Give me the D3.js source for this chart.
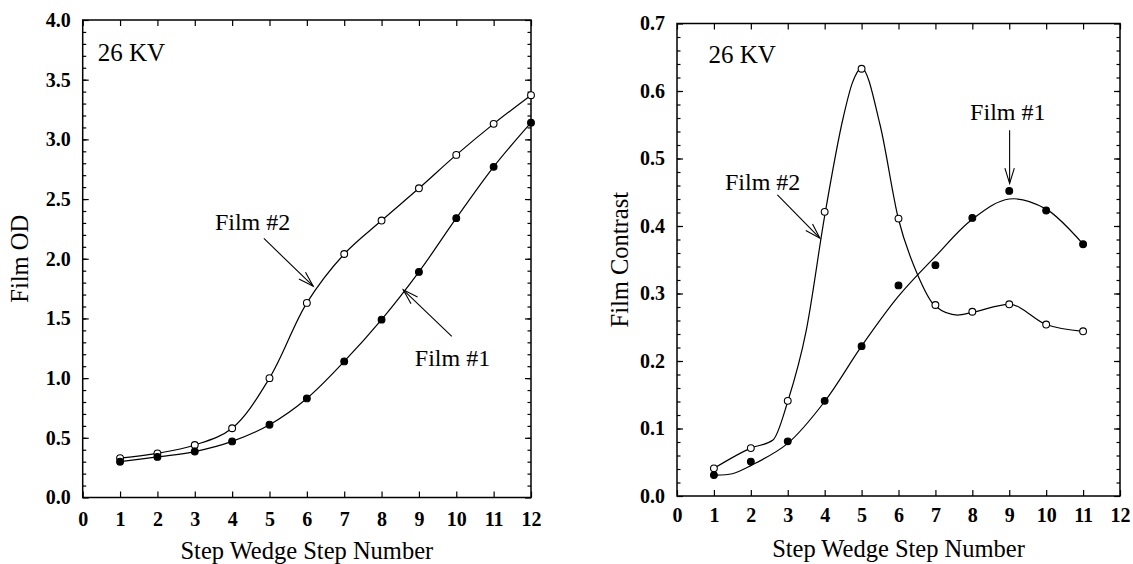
<!DOCTYPE html>
<html>
<head>
<meta charset="utf-8">
<script src="https://cdn.jsdelivr.net/npm/d3@7"></script>
<style>
  html, body { margin: 0; padding: 0; background: #fff; }
  svg { display: block; }
</style>
</head>
<body>
<svg id="chart" width="1133" height="564"></svg>
<script>
// ---------- Data ----------
const steps = [1, 2, 3, 4, 5, 6, 7, 8, 9, 10, 11, 12];
const odFilm1 = [0.30, 0.34, 0.385, 0.47, 0.61, 0.83, 1.14, 1.49, 1.89, 2.34, 2.77, 3.14];
const odFilm2 = [0.33, 0.37, 0.44, 0.58, 1.00, 1.63, 2.04, 2.32, 2.59, 2.87, 3.13, 3.37];

const contrastSteps = [1, 2, 3, 4, 5, 6, 7, 8, 9, 10, 11];
const contrastFilm1 = [0.031, 0.051, 0.081, 0.141, 0.222, 0.312, 0.342, 0.412, 0.452, 0.423, 0.373];
const contrastFilm2 = [0.041, 0.071, 0.141, 0.421, 0.633, 0.411, 0.283, 0.273, 0.284, 0.254, 0.244];

// fitted curves drawn in the contrast panel
const fit1Steps  = [1, 1.5, 2, 3, 4, 5, 6, 7, 8, 9, 10, 11];
const fit1Values = [0.031, 0.033, 0.045, 0.078, 0.14, 0.222, 0.296, 0.355, 0.41, 0.44, 0.425, 0.373];
const fit2Steps  = [1, 2, 2.6, 3, 3.5, 4, 4.5, 4.75, 5, 5.5, 6, 6.5, 7, 7.6, 8, 9, 10, 11];
const fit2Values = [0.041, 0.071, 0.083, 0.14, 0.245, 0.415, 0.56, 0.612, 0.634, 0.55, 0.41, 0.33, 0.281, 0.268, 0.272, 0.284, 0.254, 0.244];

// ticks
const xTicks = [0, 1, 2, 3, 4, 5, 6, 7, 8, 9, 10, 11, 12];
const odTicks = [0, 0.5, 1.0, 1.5, 2.0, 2.5, 3.0, 3.5, 4.0];
const contrastTicks = [0, 0.1, 0.2, 0.3, 0.4, 0.5, 0.6, 0.7];

const svg = d3.select('#chart');
const SERIF = "'Liberation Serif', 'Times New Roman', serif";
const zip = (xs, ys) => xs.map((v, i) => [v, ys[i]]);

function drawPanel(o) {
  const x = d3.scaleLinear().domain([0, 12]).range([o.left, o.right]);
  const y = d3.scaleLinear().domain([0, o.yMax]).range([o.bottom, o.top]);
  const g = svg.append('g');

  const styleAxis = (sel) => {
    sel.select('.domain').remove();
    sel.selectAll('line').attr('stroke', '#000').attr('stroke-width', 1.2);
    sel.attr('font-family', SERIF).attr('font-size', 20).attr('font-weight', 'bold');
    sel.selectAll('text').attr('fill', '#000');
  };

  // bottom + top
  g.append('g').attr('transform', `translate(0,${o.bottom})`)
    .call(d3.axisBottom(x).tickValues(xTicks).tickSize(-6).tickPadding(o.xPad).tickFormat(d3.format('d')))
    .call(styleAxis);
  g.append('g').attr('transform', `translate(0,${o.top})`)
    .call(d3.axisTop(x).tickValues(xTicks).tickSize(-6).tickFormat(''))
    .call(styleAxis);

  // left + right (major and minor)
  g.append('g').attr('transform', `translate(${o.left},0)`)
    .call(d3.axisLeft(y).tickValues(o.yTicks).tickSize(-6).tickPadding(12).tickFormat(d3.format('.1f')))
    .call(styleAxis);
  g.append('g').attr('transform', `translate(${o.left},0)`)
    .call(d3.axisLeft(y).tickValues(o.yMinor).tickSize(-3.5).tickFormat(''))
    .call(styleAxis);
  g.append('g').attr('transform', `translate(${o.right},0)`)
    .call(d3.axisRight(y).tickValues(o.yTicks).tickSize(-6).tickFormat(''))
    .call(styleAxis);
  g.append('g').attr('transform', `translate(${o.right},0)`)
    .call(d3.axisRight(y).tickValues(o.yMinor).tickSize(-3.5).tickFormat(''))
    .call(styleAxis);

  // frame
  g.append('rect')
    .attr('x', o.left).attr('y', o.top)
    .attr('width', o.right - o.left).attr('height', o.bottom - o.top)
    .attr('fill', 'none').attr('stroke', '#000').attr('stroke-width', 1.5);

  // curves
  o.curves.forEach(c => {
    const line = d3.line().x(d => x(d[0])).y(d => y(d[1])).curve(c.curve);
    g.append('path').attr('d', line(c.pts)).attr('fill', 'none')
      .attr('stroke', '#000').attr('stroke-width', 1.2);
  });

  // markers
  o.series.forEach(s => {
    g.append('g').selectAll('circle').data(s.pts).join('circle')
      .attr('cx', d => x(d[0])).attr('cy', d => y(d[1])).attr('r', 3.4)
      .attr('fill', s.open ? '#fff' : '#000')
      .attr('stroke', '#000').attr('stroke-width', 1.1);
  });

  // annotations
  o.notes.forEach(n => {
    g.append('text').attr('x', x(n.at[0])).attr('y', y(n.at[1]))
      .attr('font-family', SERIF).attr('font-size', n.size || 24).attr('fill', '#000')
      .text(n.text);
    if (!n.from) return;
    const x1 = x(n.from[0]), y1 = y(n.from[1]), x2 = x(n.to[0]), y2 = y(n.to[1]);
    g.append('line').attr('x1', x1).attr('y1', y1).attr('x2', x2).attr('y2', y2)
      .attr('stroke', '#000').attr('stroke-width', 1.1);
    const a = Math.atan2(y1 - y2, x1 - x2), L = 16, s = 0.3;
    const head = [[x2 + L * Math.cos(a - s), y2 + L * Math.sin(a - s)], [x2, y2],
                  [x2 + L * Math.cos(a + s), y2 + L * Math.sin(a + s)]];
    g.append('path').attr('d', d3.line()(head)).attr('fill', 'none')
      .attr('stroke', '#000').attr('stroke-width', 1.1);
  });

  // axis titles
  g.append('text')
    .attr('x', (o.left + o.right) / 2).attr('y', o.xTitleY)
    .attr('text-anchor', 'middle').attr('font-family', SERIF).attr('font-size', 24.5)
    .text('Step Wedge Step Number');
  g.append('text')
    .attr('transform', `translate(${o.yTitleX},${(o.top + o.bottom) / 2}) rotate(-90)`)
    .attr('text-anchor', 'middle').attr('font-family', SERIF).attr('font-size', 24.5)
    .text(o.yTitle);
}

const smooth = d3.curveCatmullRom.alpha(0.5);

drawPanel({
  left: 82.7, right: 531, top: 20, bottom: 497.5,
  yMax: 4, yTicks: odTicks, yMinor: d3.range(0.1, 4, 0.1),
  xPad: 14, xTitleY: 559, yTitleX: 28, yTitle: 'Film OD',
  curves: [{ pts: zip(steps, odFilm1), curve: smooth }, { pts: zip(steps, odFilm2), curve: smooth }],
  series: [{ pts: zip(steps, odFilm2), open: true }, { pts: zip(steps, odFilm1), open: false }],
  notes: [
    { text: '26 KV', at: [0.40, 3.66], size: 25 },
    { text: 'Film #2', at: [3.54, 2.24], from: [4.85, 2.17], to: [6.17, 1.77] },
    { text: 'Film #1', at: [8.89, 1.10], from: [9.88, 1.35], to: [8.58, 1.74] }
  ]
});

drawPanel({
  left: 677, right: 1120, top: 23.5, bottom: 496,
  yMax: 0.7, yTicks: contrastTicks, yMinor: d3.range(0.02, 0.7, 0.02),
  xPad: 12, xTitleY: 556.5, yTitleX: 628, yTitle: 'Film Contrast',
  curves: [{ pts: zip(fit1Steps, fit1Values), curve: smooth },
           { pts: zip(fit2Steps, fit2Values), curve: d3.curveMonotoneX }],
  series: [{ pts: zip(contrastSteps, contrastFilm2), open: true }, { pts: zip(contrastSteps, contrastFilm1), open: false }],
  notes: [
    { text: '26 KV', at: [0.85, 0.641], size: 25 },
    { text: 'Film #2', at: [1.30, 0.453], from: [2.72, 0.446], to: [3.87, 0.382] },
    { text: 'Film #1', at: [7.94, 0.557], from: [9.01, 0.542], to: [9.01, 0.463] }
  ]
});
</script>
</body>
</html>
